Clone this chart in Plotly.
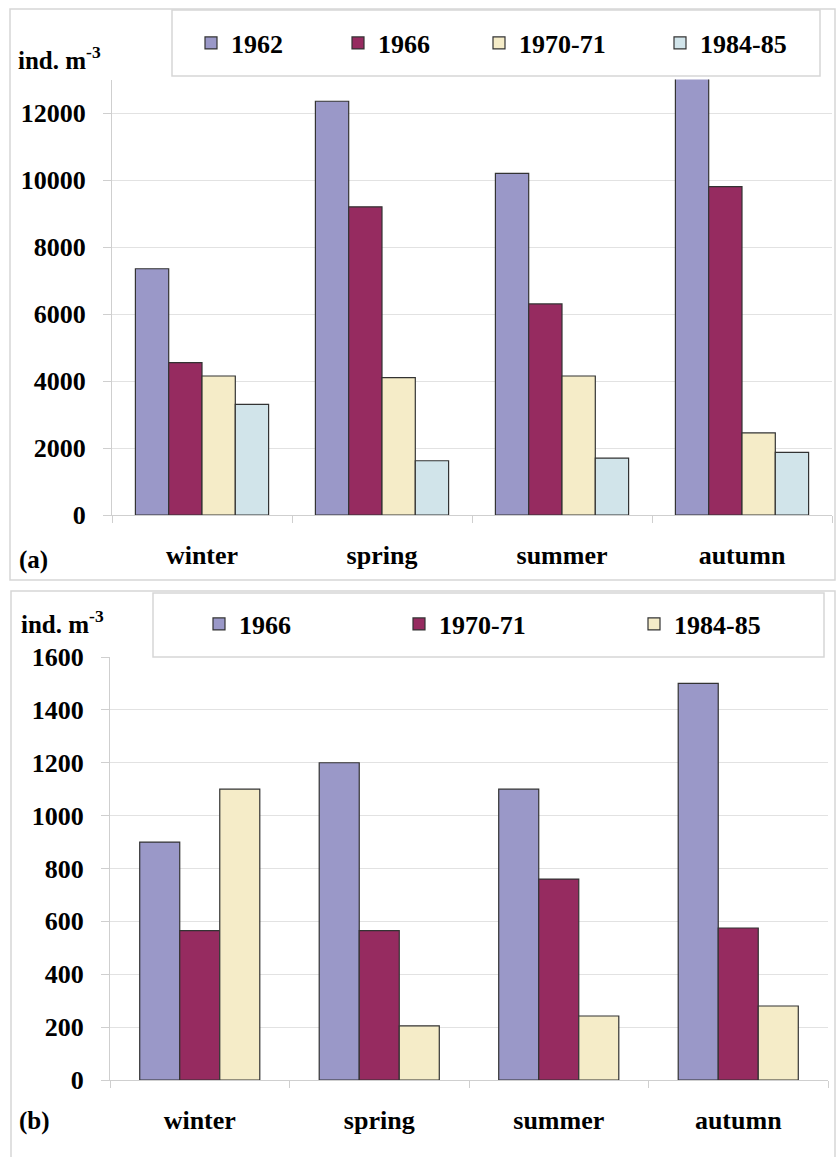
import plotly.graph_objects as go

# Seasonal zooplankton abundance (ind. m^-3)
seasons = ["winter", "spring", "summer", "autumn"]

# Panel (a)
a_years = ["1962", "1966", "1970-71", "1984-85"]
a_1962 = [7350, 12350, 10200, 13400]
a_1966 = [4550, 9200, 6300, 9800]
a_1970 = [4150, 4100, 4150, 2450]
a_1984 = [3300, 1620, 1700, 1870]
a_values = [a_1962, a_1966, a_1970, a_1984]
a_colors = ["#9a98c8", "#962b60", "#f5ecc8", "#d1e4ea"]
a_ticks = [0, 2000, 4000, 6000, 8000, 10000, 12000]

# Panel (b)
b_years = ["1966", "1970-71", "1984-85"]
b_1966 = [900, 1200, 1100, 1500]
b_1970 = [565, 565, 760, 575]
b_1984 = [1100, 205, 242, 280]
b_values = [b_1966, b_1970, b_1984]
b_colors = ["#9a98c8", "#962b60", "#f5ecc8"]
b_ticks = [0, 200, 400, 600, 800, 1000, 1200, 1400, 1600]

W, H = 837, 1157
FONT = "Liberation Serif"
GRID = "#e2e2e2"
AXIS = "#cfcfcf"
BORDER = "#d6d6d6"


def px(x):
    return x / W


def py(y):
    return 1 - y / H


fig = go.Figure()

a_legw = [102, 96, 136, 95]
for name, vals, col, lw in zip(a_years, a_values, a_colors, a_legw):
    fig.add_trace(go.Bar(
        x=seasons, y=vals, name=name, xaxis="x", yaxis="y",
        marker=dict(color=col, line=dict(color="#333333", width=1.2)),
        legend="legend", legendwidth=lw,
    ))

# panel (b): three bars per season, each 0.223 of a category wide
b_w = 0.223
b_legw = [155, 190, 95]
for i, (name, vals, col, lw) in enumerate(zip(b_years, b_values, b_colors, b_legw)):
    fig.add_trace(go.Bar(
        x=seasons, y=vals, name=name, xaxis="x2", yaxis="y2",
        width=b_w, offset=-1.5 * b_w + i * b_w,
        marker=dict(color=col, line=dict(color="#333333", width=1.2)),
        legend="legend2", legendwidth=lw,
    ))

tick_font = dict(family=FONT, size=26, color="black", weight="bold")

xcommon = dict(
    type="category", categoryorder="array", categoryarray=seasons,
    showline=True, linecolor=AXIS, linewidth=1,
    ticks="outside", tickson="boundaries", ticklen=7, tickcolor=AXIS,
    showgrid=False, tickfont=tick_font, ticklabelstandoff=17,
    fixedrange=True,
)
ycommon = dict(
    showline=True, linecolor=AXIS, linewidth=1,
    ticks="outside", ticklen=8, tickcolor=AXIS,
    showgrid=True, gridcolor=GRID, gridwidth=1,
    zeroline=False, tickfont=tick_font, ticklabelstandoff=12,
    tickformat="d", fixedrange=True,
)

shapes = [
    # panel frames
    dict(type="rect", xref="paper", yref="paper",
         x0=px(10), x1=px(835), y0=py(580), y1=py(9),
         line=dict(color=BORDER, width=1.5), fillcolor="rgba(0,0,0,0)", layer="below"),
    dict(type="rect", xref="paper", yref="paper",
         x0=px(11), x1=px(835), y0=py(1170), y1=py(591),
         line=dict(color=BORDER, width=1.5), fillcolor="rgba(0,0,0,0)", layer="below"),
    # legend boxes
    dict(type="rect", xref="paper", yref="paper",
         x0=px(172), x1=px(820), y0=py(76), y1=py(10),
         line=dict(color=BORDER, width=1.5), fillcolor="white", layer="above"),
    dict(type="rect", xref="paper", yref="paper",
         x0=px(153), x1=px(824), y0=py(657), y1=py(593),
         line=dict(color=BORDER, width=1.5), fillcolor="white", layer="above"),
]

label_font = dict(family=FONT, size=25, color="black", weight="bold")
annotations = [
    dict(text="ind. m<sup>-3</sup>", x=px(16), y=py(58), xref="paper", yref="paper",
         xanchor="left", yanchor="middle", showarrow=False, font=label_font),
    dict(text="ind. m<sup>-3</sup>", x=px(19), y=py(622), xref="paper", yref="paper",
         xanchor="left", yanchor="middle", showarrow=False, font=label_font),
    dict(text="(a)", x=px(17), y=py(560), xref="paper", yref="paper",
         xanchor="left", yanchor="middle", showarrow=False, font=label_font),
    dict(text="(b)", x=px(17), y=py(1121), xref="paper", yref="paper",
         xanchor="left", yanchor="middle", showarrow=False, font=label_font),
]

legend_font = dict(family=FONT, size=26, color="black", weight="bold")

fig.update_layout(
    width=W, height=H,
    margin=dict(l=0, r=0, t=0, b=0, autoexpand=False),
    paper_bgcolor="white", plot_bgcolor="white",
    barmode="group", bargap=0.26,
    xaxis=dict(domain=[px(112), px(832)], anchor="y", **xcommon),
    yaxis=dict(domain=[py(515), py(79.5)], anchor="x", range=[0, 13000],
               tickvals=a_ticks, **ycommon),
    xaxis2=dict(domain=[px(110), px(828)], anchor="y2", **xcommon),
    yaxis2=dict(domain=[py(1080), py(657)], anchor="x2", range=[0, 1600],
                tickvals=b_ticks, **ycommon),
    legend=dict(orientation="h", x=px(191), y=py(43), xanchor="left", yanchor="middle",
                bgcolor="rgba(0,0,0,0)", borderwidth=0, font=legend_font,
                itemclick=False, itemdoubleclick=False, tracegroupgap=0),
    legend2=dict(orientation="h", x=px(199), y=py(624), xanchor="left", yanchor="middle",
                 bgcolor="rgba(0,0,0,0)", borderwidth=0, font=legend_font,
                 itemclick=False, itemdoubleclick=False, tracegroupgap=0),
    shapes=shapes,
    annotations=annotations,
    showlegend=True,
)

fig.write_html("out.html", config={"displayModeBar": False})
